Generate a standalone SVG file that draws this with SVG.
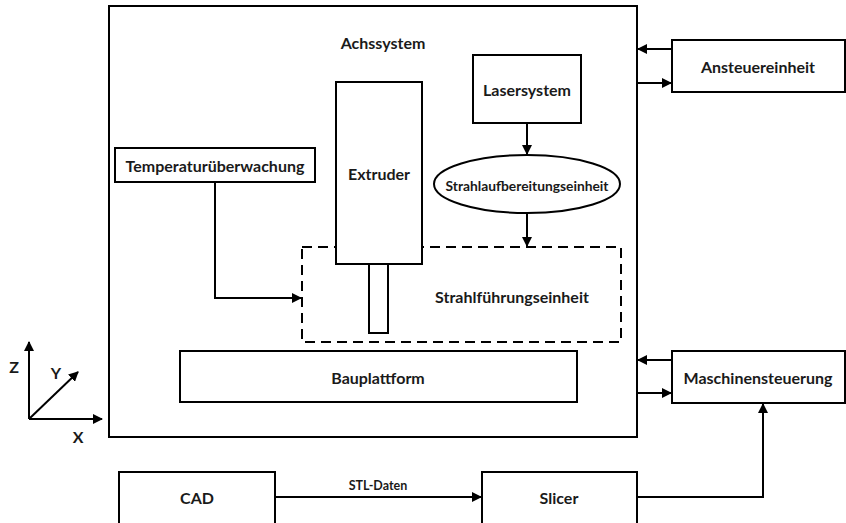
<svg xmlns="http://www.w3.org/2000/svg" width="846" height="523" viewBox="0 0 846 523">
<style>
.b{fill:#fff;stroke:#000;stroke-width:2}
.t{font-family:Lato,"Liberation Sans",sans-serif;font-weight:bold;font-size:16px;fill:#1a1a1a;text-anchor:middle;dominant-baseline:central}
.s{font-size:13.8px}
.l{font-size:12.5px}
.c{fill:none;stroke:#000;stroke-width:2}
</style>
<defs>
<marker id="a" markerWidth="10" markerHeight="10" refX="9" refY="5" orient="auto" markerUnits="userSpaceOnUse">
<path d="M0,0 L10,5 L0,10 z" fill="#000"/>
</marker>
</defs>
<rect width="846" height="523" fill="#fff"/>
<g id="achssystem"><rect class="b" x="109" y="6" width="528" height="431"/><text class="t" x="383" y="42">Achssystem</text></g>
<g id="strahlfuehrung"><rect x="302" y="247" width="319" height="95" fill="none" stroke="#000" stroke-width="2" stroke-dasharray="10,6"/><text class="t" x="512" y="296">Strahlführungseinheit</text></g>
<g id="extruder"><rect class="b" x="336" y="82" width="86" height="182" fill="none"/><rect class="b" x="369" y="264" width="19" height="69"/><text class="t" x="379" y="173">Extruder</text></g>
<g id="laser"><rect class="b" x="473" y="55" width="108" height="68"/><text class="t" x="527" y="89">Lasersystem</text></g>
<g id="strahlaufbereitung"><ellipse class="b" cx="527" cy="184" rx="93" ry="29"/><text class="t s" x="527" y="185">Strahlaufbereitungseinheit</text></g>
<g id="temperatur"><rect class="b" x="115" y="148" width="200" height="34"/><text class="t" x="215" y="165">Temperaturüberwachung</text></g>
<g id="bauplattform"><rect class="b" x="180" y="351" width="397" height="51"/><text class="t" x="378" y="377">Bauplattform</text></g>
<g id="ansteuer"><rect class="b" x="672" y="40" width="173" height="52"/><text class="t" x="758" y="66">Ansteuereinheit</text></g>
<g id="maschine"><rect class="b" x="672" y="351" width="173" height="52"/><text class="t" x="758" y="377">Maschinensteuerung</text></g>
<g id="cad"><rect class="b" x="119" y="472" width="156" height="60"/><text class="t" x="197" y="497">CAD</text></g>
<g id="slicer"><rect class="b" x="482" y="472" width="155" height="60"/><text class="t" x="559" y="497">Slicer</text></g>
<g id="axes">
<path class="c" d="M29,419 V342" marker-end="url(#a)"/>
<path class="c" d="M29,419 H102" marker-end="url(#a)"/>
<path class="c" d="M29,419 L78,372" marker-end="url(#a)"/>
<text class="t" x="14" y="366">Z</text>
<text class="t" x="56" y="372">Y</text>
<text class="t" x="78" y="436">X</text>
</g>
<g id="connectors">
<path class="c" d="M527,123 V154" marker-end="url(#a)"/>
<path class="c" d="M527,213 V246" marker-end="url(#a)"/>
<path class="c" d="M215,182 V298 H301" marker-end="url(#a)"/>
<path class="c" d="M672,49 H638" marker-end="url(#a)"/>
<path class="c" d="M637,83 H671" marker-end="url(#a)"/>
<path class="c" d="M672,360 H638" marker-end="url(#a)"/>
<path class="c" d="M637,393 H671" marker-end="url(#a)"/>
<path class="c" d="M275,497 H481" marker-end="url(#a)"/>
<text class="t l" x="378" y="485">STL-Daten</text>
<path class="c" d="M637,497 H763 V404" marker-end="url(#a)"/>
</g>
</svg>
